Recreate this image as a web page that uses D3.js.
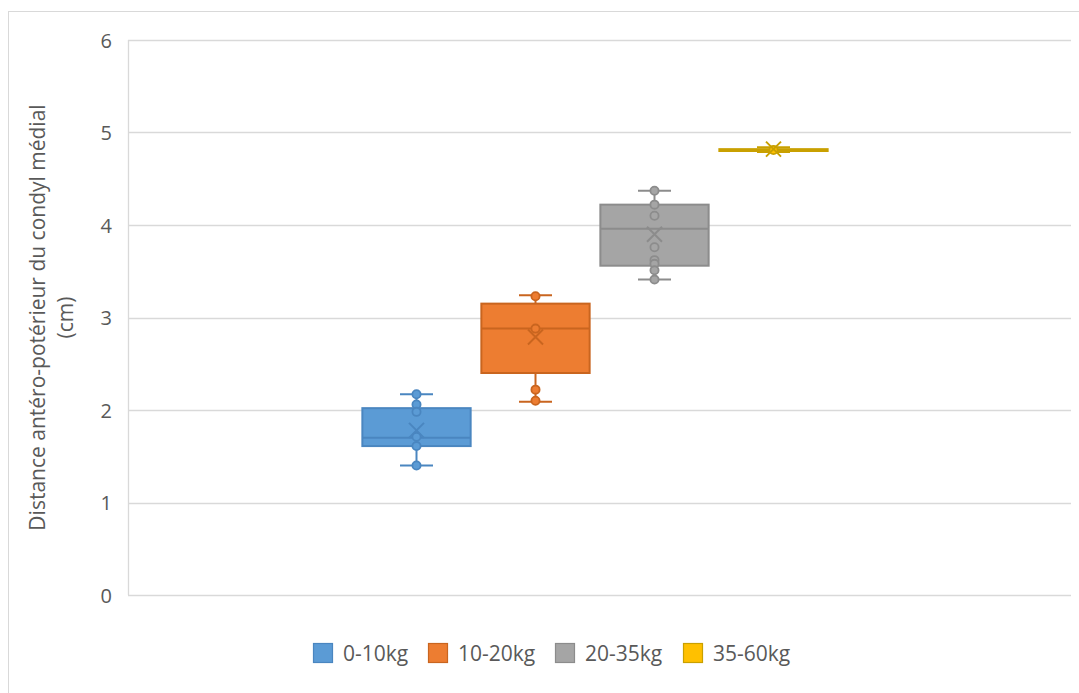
<!DOCTYPE html>
<html><head><meta charset="utf-8">
<script src="https://cdn.jsdelivr.net/npm/d3@7"></script>
<style>html,body{margin:0;padding:0;background:#fff;}svg{display:block;}</style>
</head><body>
<svg id="c" width="1079" height="693"></svg>
<script>
const series = ["0-10kg", "10-20kg", "20-35kg", "35-60kg"];
const fills = ["#5B9BD5", "#ED7D31", "#A5A5A5", "#FFC000"];
const strokes = ["#4A86C0", "#C9651F", "#8C8C8C", "#C9A000"];
const mins = [1.40, 2.09, 3.41, 4.79];
const q1s = [1.61, 2.40, 3.56, 4.80];
const medians = [1.70, 2.88, 3.96, 4.81];
const q3s = [2.02, 3.15, 4.22, 4.82];
const maxs = [2.17, 3.24, 4.37, 4.84];
const means = [1.78, 2.79, 3.90, 4.82];
const points = [
  [2.17, 2.06, 1.98, 1.71, 1.61, 1.40],
  [3.23, 2.88, 2.22, 2.10],
  [4.37, 4.22, 4.10, 3.76, 3.62, 3.58, 3.51, 3.41],
  [4.81]
];
const yTicks = [0, 1, 2, 3, 4, 5, 6];
const yTitle = ["Distance antéro-potérieur du condyl médial", "(cm)"];

const svg = d3.select("#c");
const font = "'Open Sans', Calibri, sans-serif";
const txt = "#595959";
const grid = "#D9D9D9";
const plotL = 128, plotR = 1071, plotT = 40, plotB = 595;

// outer border
svg.append("rect").attr("x", 8.5).attr("y", 11.5).attr("width", 1100).attr("height", 700)
  .attr("fill", "#fff").attr("stroke", grid).attr("stroke-width", 1);

const y = d3.scaleLinear().domain([0, 6]).range([plotB, plotT]);
const x = d3.scaleBand().domain(series).range([357, 833]).paddingInner(0.09).paddingOuter(0.045);

// gridlines
svg.append("g").selectAll("line").data(yTicks).join("line")
  .attr("x1", plotL).attr("x2", plotR)
  .attr("y1", d => Math.round(y(d)) + 0.5).attr("y2", d => Math.round(y(d)) + 0.5)
  .attr("stroke", grid).attr("stroke-width", 1.3);
svg.append("line").attr("x1", plotL + 0.5).attr("x2", plotL + 0.5)
  .attr("y1", plotT).attr("y2", plotB).attr("stroke", grid).attr("stroke-width", 1.3);

// y axis labels
const yAxis = d3.axisLeft(y).tickValues(yTicks).tickSize(0).tickPadding(0).tickFormat(d3.format("d"));
const ga = svg.append("g").attr("transform", `translate(112,0)`).call(yAxis);
ga.select(".domain").remove();
ga.selectAll("text").attr("font-family", font).attr("font-size", 20).attr("fill", txt).attr("dy", "0.35em");

// y title
const tt = svg.append("text").attr("transform", `translate(52,${(plotT + plotB) / 2}) rotate(-90)`)
  .attr("text-anchor", "middle").attr("font-family", font).attr("font-size", 21).attr("fill", txt);
yTitle.forEach((t, i) => tt.append("tspan").attr("x", 0).attr("y", (i - 0.5) * 28 + 7).text(t));

// boxes
const capW = 33;
const g = svg.append("g");
series.forEach((s, i) => {
  const cx = x(s) + x.bandwidth() / 2;
  const bw = x.bandwidth();
  const gg = g.append("g");
  // whiskers
  gg.append("line").attr("x1", cx).attr("x2", cx).attr("y1", y(maxs[i])).attr("y2", y(q3s[i]))
    .attr("stroke", strokes[i]).attr("stroke-width", 2);
  gg.append("line").attr("x1", cx).attr("x2", cx).attr("y1", y(q1s[i])).attr("y2", y(mins[i]))
    .attr("stroke", strokes[i]).attr("stroke-width", 2);
  [maxs[i], mins[i]].forEach(v => gg.append("line")
    .attr("x1", cx - capW / 2).attr("x2", cx + capW / 2).attr("y1", y(v)).attr("y2", y(v))
    .attr("stroke", strokes[i]).attr("stroke-width", 2));
  // box
  gg.append("rect").attr("x", x(s)).attr("width", bw)
    .attr("y", y(q3s[i])).attr("height", Math.max(0.5, y(q1s[i]) - y(q3s[i])))
    .attr("fill", fills[i]).attr("stroke", strokes[i]).attr("stroke-width", 2);
  gg.append("line").attr("x1", x(s)).attr("x2", x(s) + bw).attr("y1", y(medians[i])).attr("y2", y(medians[i]))
    .attr("stroke", strokes[i]).attr("stroke-width", 2);
  // points
  gg.selectAll("circle").data(points[i]).join("circle")
    .attr("cx", cx).attr("cy", d => y(d)).attr("r", 4.1)
    .attr("fill", fills[i]).attr("stroke", strokes[i]).attr("stroke-width", 1.8);
  // mean X
  const my = y(means[i]), h = 7.5;
  gg.append("path").attr("d", `M${cx - h},${my - h}L${cx + h},${my + h}M${cx - h},${my + h}L${cx + h},${my - h}`)
    .attr("stroke", strokes[i]).attr("stroke-width", 2).attr("fill", "none");
});

// legend
const legX = [313, 428, 555, 683];
const lg = svg.append("g");
series.forEach((s, i) => {
  lg.append("rect").attr("x", legX[i] + 0.5).attr("y", 643.5).attr("width", 19).attr("height", 19)
    .attr("fill", fills[i]).attr("stroke", strokes[i]).attr("stroke-width", 1.2);
  lg.append("text").attr("x", legX[i] + 30).attr("y", 661).attr("font-family", font).attr("font-size", 21)
    .attr("fill", txt).text(s);
});
</script>
</body></html>
